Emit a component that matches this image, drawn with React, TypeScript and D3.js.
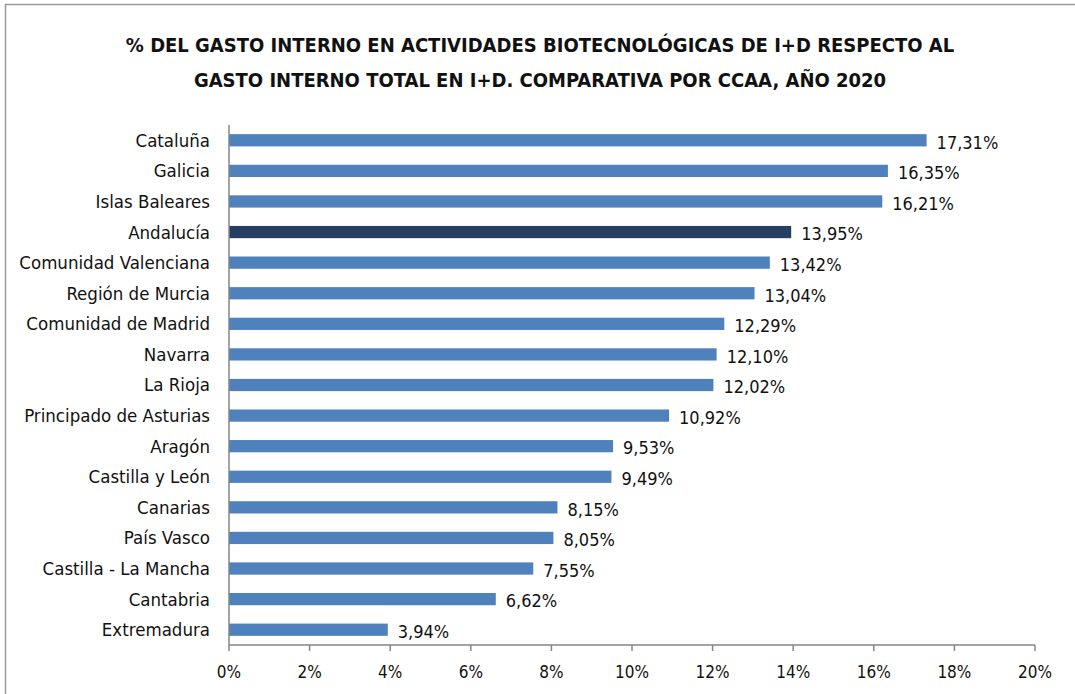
import React from "react";
import * as d3 from "d3";

const categories = [
  "Cataluña", "Galicia", "Islas Baleares", "Andalucía", "Comunidad Valenciana",
  "Región de Murcia", "Comunidad de Madrid", "Navarra", "La Rioja",
  "Principado de Asturias", "Aragón", "Castilla y León", "Canarias",
  "País Vasco", "Castilla - La Mancha", "Cantabria", "Extremadura",
];
const values = [17.31, 16.35, 16.21, 13.95, 13.42, 13.04, 12.29, 12.1, 12.02, 10.92, 9.53, 9.49, 8.15, 8.05, 7.55, 6.62, 3.94];
const highlighted = ["Andalucía"];
const xTicks = [0, 2, 4, 6, 8, 10, 12, 14, 16, 18, 20];
const titleLines = [
  "% DEL GASTO INTERNO EN ACTIVIDADES BIOTECNOLÓGICAS DE I+D RESPECTO AL",
  "GASTO INTERNO TOTAL EN I+D. COMPARATIVA POR CCAA, AÑO 2020",
];

const W = 1075, H = 694;
const FONT = "'Liberation Sans Narrow', 'DejaVu Sans Condensed', 'Open Sans', sans-serif";

export default function App() {
  const x = d3.scaleLinear().domain([0, 20]).range([229, 1035]);
  const y = d3.scaleBand<string>().domain(categories).range([125, 645]).paddingInner(0.6).paddingOuter(0.3);
  const fmt = (v: number) => v.toFixed(2).replace(".", ",") + "%";
  const axisColor = "#868686";
  return (
    <svg width={W} height={H} style={{ position: "absolute", left: 0, top: 0 }}>
      <rect x={0} y={0} width={W} height={H} fill="#fff" />
      <rect x={5.5} y={4.5} width={W + 10} height={H + 10} fill="none" stroke="#9a9a9a" strokeWidth={1.5} />
      {titleLines.map((t, i) => (
        <text key={i} x={540} y={52 + i * 35} textAnchor="middle" fontFamily={FONT} fontWeight="bold" fontSize={20} fill="#111">
          {t}
        </text>
      ))}
      {categories.map((c, i) => (
        <g key={c}>
          <rect
            x={x(0)}
            y={y(c)!}
            width={x(values[i]) - x(0)}
            height={y.bandwidth()}
            fill={highlighted.includes(c) ? "#243F60" : "#4F81BD"}
          />
          <text x={210} y={y(c)! + y.bandwidth() / 2} dy="0.35em" textAnchor="end" fontFamily={FONT} fontSize={18.5} fill="#111">
            {c}
          </text>
          <text x={x(values[i]) + 10} y={y(c)! + y.bandwidth() / 2 + 2} dy="0.35em" textAnchor="start" fontFamily={FONT} fontSize={18} fill="#111">
            {fmt(values[i])}
          </text>
        </g>
      ))}
      <line x1={x(0)} x2={x(0)} y1={125} y2={645} stroke={axisColor} strokeWidth={1.5} />
      <line x1={x(0)} x2={x(20)} y1={645} y2={645} stroke={axisColor} strokeWidth={1.5} />
      {xTicks.map((t) => (
        <g key={t}>
          <line x1={x(t)} x2={x(t)} y1={645} y2={651} stroke={axisColor} strokeWidth={1.5} />
          <text x={x(t)} y={672} dy="0.35em" textAnchor="middle" fontFamily={FONT} fontSize={17} fill="#111">
            {t + "%"}
          </text>
        </g>
      ))}
    </svg>
  );
}
